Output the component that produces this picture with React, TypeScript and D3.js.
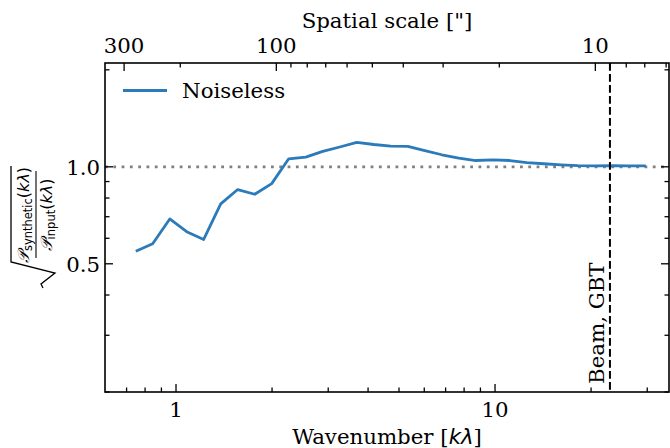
import React from 'react';
import * as d3 from 'd3';

// ---- data ----
const wavenumber = [
  0.748, 0.845, 0.956, 1.08, 1.221, 1.381, 1.561, 1.765, 1.995, 2.256,
  2.551, 2.884, 3.261, 3.687, 4.168, 4.713, 5.328, 6.024, 6.811, 7.7,
  8.706, 9.84, 11.13, 12.58, 14.22, 16.08, 18.18, 20.55, 23.23, 26.27, 29.7,
];
const noiseless = [
  0.547, 0.577, 0.689, 0.629, 0.595, 0.767, 0.85, 0.822, 0.887, 1.059,
  1.072, 1.116, 1.152, 1.19, 1.173, 1.16, 1.157, 1.122, 1.09, 1.064,
  1.046, 1.051, 1.046, 1.031, 1.022, 1.014, 1.008, 1.006, 1.008, 1.007, 1.007,
];
const xMajorTicks = [1, 10];
const xMinorTicks = [0.7, 0.8, 0.9, 2, 3, 4, 5, 6, 7, 8, 9, 20, 30];
const yMajorTicks = [0.5, 1.0];
const yMinorTicks = [0.2, 0.3, 0.4, 0.6, 0.7, 0.8, 0.9, 2.0];
const topMajorTicks = [300, 100, 10];
const topMinorTicks = [200, 90, 80, 70, 60, 50, 40, 30, 20, 9, 8, 7, 6];
const beamArcsec = 9;
const ARCSEC_PER_KLAMBDA = 206.265;
const xDomain = [0.599, 35.1];
const yDomain = [0.2, 2.1];

const W = 670, H = 448;
const L = 105, R = 669, T = 63, B = 392;
const SERIF = "'DejaVu Serif', serif";
const SANS = "'DejaVu Sans', sans-serif";
const BLUE = '#2b7bba';
const FS = 21.3;

export default function App() {
  const x = d3.scaleLog().domain(xDomain).range([L, R]);
  const y = d3.scaleLog().domain(yDomain).range([B, T]);
  const xTop = (s: number) => x(ARCSEC_PER_KLAMBDA / s);
  const line = d3.line<number>()
    .x((_, i) => x(wavenumber[i]))
    .y((d) => y(d));
  const beamX = x(ARCSEC_PER_KLAMBDA / beamArcsec);
  const fmtY = d3.format('.1f');
  const MAJ = 8, MIN = 4.5;
  const tickStyle = { stroke: '#000', strokeWidth: 1.3 };

  return (
    <svg width={W} height={H} style={{ position: 'absolute', left: 0, top: 0, background: '#fff' }}
      fontFamily={SERIF}>
      <rect x={0} y={0} width={W} height={H} fill="#fff" />
      {/* reference line at 1 */}
      <line x1={L} x2={R} y1={y(1)} y2={y(1)} stroke="#808080" strokeWidth={2.7}
        strokeDasharray="2.8 5.5" />
      {/* data */}
      <path d={line(noiseless) || ''} fill="none" stroke={BLUE} strokeWidth={2.8}
        strokeLinejoin="round" />
      {/* beam */}
      <line x1={beamX} x2={beamX} y1={T} y2={B} stroke="#000" strokeWidth={2}
        strokeDasharray="7.7 3.3" />
      <text transform={`translate(${beamX - 6},${B - 8}) rotate(-90)`} fontSize={FS}
        textAnchor="start">Beam, GBT</text>

      {/* legend */}
      <line x1={123} x2={167} y1={90.5} y2={90.5} stroke={BLUE} strokeWidth={2.8} />
      <text x={182} y={98} fontSize={FS}>Noiseless</text>

      {/* ticks bottom & top of x */}
      {xMajorTicks.map((t) => (
        <g key={'xM' + t}>
          <line x1={x(t)} x2={x(t)} y1={B} y2={B - MAJ} {...tickStyle} />
          <text x={x(t)} y={417} fontSize={FS} textAnchor="middle">{t}</text>
        </g>
      ))}
      {xMinorTicks.map((t) => (
        <line key={'xm' + t} x1={x(t)} x2={x(t)} y1={B} y2={B - MIN} {...tickStyle} />
      ))}
      {topMajorTicks.map((s) => (
        <g key={'tM' + s}>
          <line x1={xTop(s)} x2={xTop(s)} y1={T} y2={T + MAJ} {...tickStyle} />
          <text x={xTop(s)} y={53} fontSize={FS} textAnchor="middle">{s}</text>
        </g>
      ))}
      {topMinorTicks.map((s) => (
        <line key={'tm' + s} x1={xTop(s)} x2={xTop(s)} y1={T} y2={T + MIN} {...tickStyle} />
      ))}
      {/* y ticks left & right */}
      {yMajorTicks.map((t) => (
        <g key={'yM' + t}>
          <line x1={L} x2={L + MAJ} y1={y(t)} y2={y(t)} {...tickStyle} />
          <line x1={R} x2={R - MAJ} y1={y(t)} y2={y(t)} {...tickStyle} />
          <text x={100} y={y(t) + 7.8} fontSize={FS} textAnchor="end">{fmtY(t)}</text>
        </g>
      ))}
      {yMinorTicks.map((t) => (
        <g key={'ym' + t}>
          <line x1={L} x2={L + MIN} y1={y(t)} y2={y(t)} {...tickStyle} />
          <line x1={R} x2={R - MIN} y1={y(t)} y2={y(t)} {...tickStyle} />
        </g>
      ))}

      {/* frame */}
      <rect x={L} y={T} width={R - L} height={B - T} fill="none" stroke="#000" strokeWidth={1.6} />

      {/* axis titles */}
      <text x={(L + R) / 2} y={444} fontSize={FS} textAnchor="middle">
        Wavenumber [<tspan fontFamily={SANS} fontStyle="italic">kλ</tspan>]
      </text>
      <text x={(L + R) / 2} y={28} fontSize={FS} textAnchor="middle">Spatial scale ["]</text>

      {/* y label: sqrt(P_synthetic(kλ)/P_input(kλ)) */}
      <g transform="translate(0,227) rotate(-90)" fontFamily={SANS}>
        <path d="M -61 43 L -57 41 L -46 55 L -35 11 L 61 11" fill="none" stroke="#000" strokeWidth={1.3} />
        <line x1={-31} x2={56} y1={36} y2={36} stroke="#000" strokeWidth={1.1} />
        <text x={12} y={29} fontSize={16} textAnchor="middle">
          <tspan fontStyle="italic">𝒫</tspan>
          <tspan fontSize={11.5} dy={3}>synthetic</tspan>
          <tspan dy={-3}>(</tspan><tspan fontStyle="italic">kλ</tspan><tspan>)</tspan>
        </text>
        <text x={12} y={52} fontSize={16} textAnchor="middle">
          <tspan fontStyle="italic">𝒫</tspan>
          <tspan fontSize={11.5} dy={3}>input</tspan>
          <tspan dy={-3}>(</tspan><tspan fontStyle="italic">kλ</tspan><tspan>)</tspan>
        </text>
      </g>
    </svg>
  );
}
